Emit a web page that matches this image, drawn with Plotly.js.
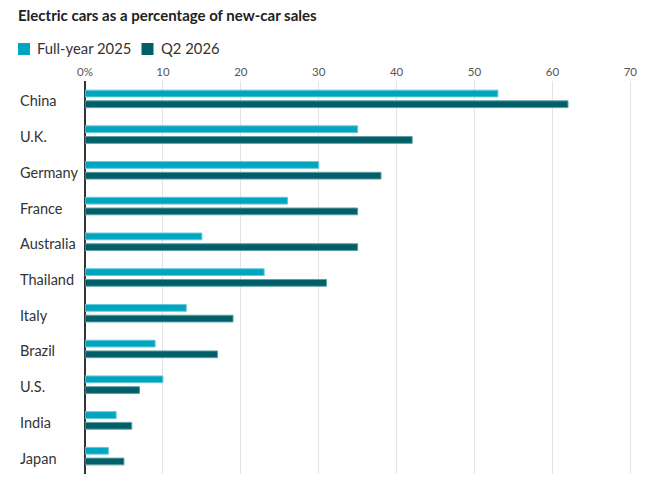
<!DOCTYPE html>
<html>
<head>
<meta charset="utf-8">
<script src="https://cdn.plot.ly/plotly-3.0.1.min.js"></script>
<style>html,body{margin:0;padding:0;background:#fff;}#chart{width:648px;height:486px;}</style>
</head>
<body>
<div id="chart"></div>
<script>
const countries = ["China","U.K.","Germany","France","Australia","Thailand","Italy","Brazil","U.S.","India","Japan"];
const fullYear2025 = [53,35,30,26,15,23,13,9,10,4,3];
const q2_2026 = [62,42,38,35,35,31,19,17,7,6,5];
const seriesNames = ["Full-year 2025","Q2 2026"];
const seriesColors = ["#00a5c0","#005f69"];
const outlineColors = ["#66c7d8","#5f9ea4"];
const tickVals = [0,10,20,30,40,50,60,70];
const tickText = ["0%","10","20","30","40","50","60","70"];

const W = 648, H = 486, L = 85, R = 13, T = 81, B = 12;
const pw = W - L - R, ph = H - T - B;
const px = x => (x - L) / pw;
const py = y => (H - B - y) / ph;

const font = "Lato, 'Noto Sans', sans-serif";

const traces = [fullYear2025, q2_2026].map((vals, i) => ({
  type: "bar",
  orientation: "h",
  name: seriesNames[i],
  x: vals,
  y: countries,
  marker: {color: seriesColors[i], line: {color: outlineColors[i], width: 1}},
  hoverinfo: "x+y",
  showlegend: false
}));

const annotations = countries.map(c => ({
  xref: "paper", yref: "y", x: px(18), y: c, xanchor: "left", yanchor: "middle", yshift: -2,
  text: c, showarrow: false, font: {family: font, size: 14.5, color: "#333"}
}));

const legendX = [18, 141.5];
const shapes = [];
seriesNames.forEach((n, i) => {
  shapes.push({type: "rect", xref: "paper", yref: "paper",
    x0: px(legendX[i]), x1: px(legendX[i] + 12), y0: py(55), y1: py(43),
    fillcolor: seriesColors[i], line: {width: 0}});
  annotations.push({xref: "paper", yref: "paper", x: px(legendX[i] + 17), y: py(48.5),
    xanchor: "left", yanchor: "middle", text: n, showarrow: false,
    font: {family: font, size: 14.8, color: "#333"}});
});

const layout = {
  width: W, height: H,
  margin: {l: L, r: R, t: T, b: B, pad: 0},
  paper_bgcolor: "#fff", plot_bgcolor: "#fff",
  title: {text: "<b>Electric cars as a percentage of new-car sales</b>", xref: "container", yref: "container",
    x: 18 / W, xanchor: "left", y: 1 - 16 / H, yanchor: "middle",
    font: {family: font, size: 15, color: "#222"}},
  barmode: "group", bargap: 0.40, bargroupgap: 0.37,
  xaxis: {range: [0, 70.6], side: "top", tickvals: tickVals, ticktext: tickText,
    showgrid: true, gridcolor: "#e3e3e3", gridwidth: 1,
    zeroline: true, zerolinecolor: "#333", zerolinewidth: 1.5,
    showline: false, ticks: "", ticklabelstandoff: 2,
    tickfont: {family: font, size: 11.5, color: "#555"}, fixedrange: true},
  yaxis: {type: "category", autorange: "reversed", showticklabels: false, showgrid: false,
    zeroline: false, showline: false, ticks: "", fixedrange: true},
  showlegend: false,
  annotations: annotations,
  shapes: shapes
};

Plotly.newPlot("chart", traces, layout, {displayModeBar: false, staticPlot: true});
</script>
</body>
</html>
